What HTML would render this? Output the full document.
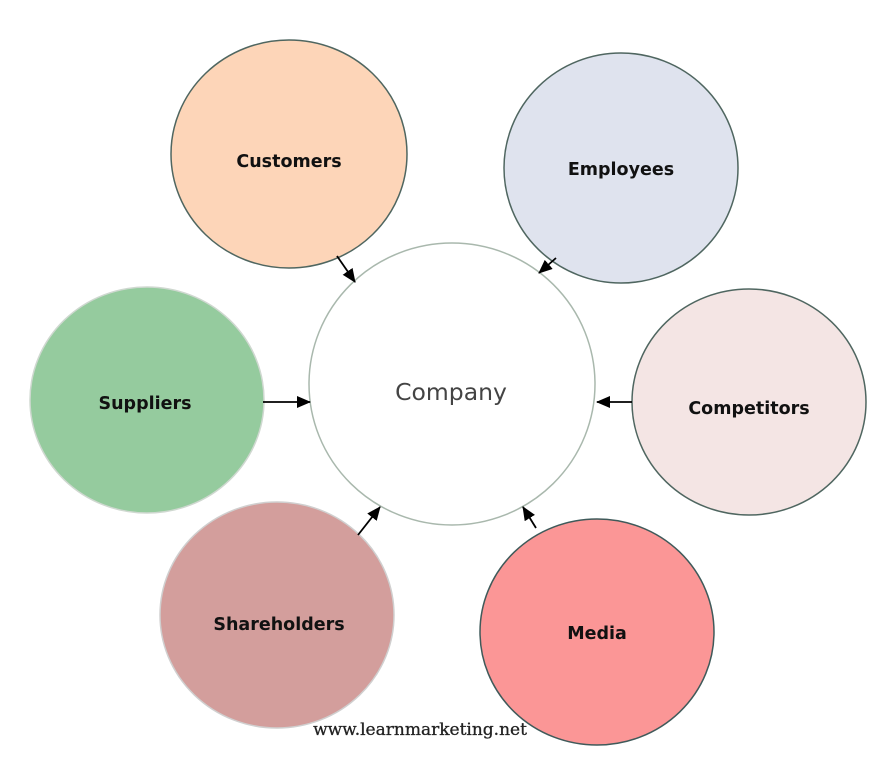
<!DOCTYPE html>
<html><head><style>body{margin:0;background:#fff}</style></head><body>
<svg width="888" height="769" xmlns="http://www.w3.org/2000/svg">
<defs><marker id="a" markerWidth="14" markerHeight="14" refX="13" refY="6" orient="auto" markerUnits="userSpaceOnUse"><path d="M0,0 L14,6 L0,12 z" fill="#000"/></marker></defs>
<g stroke="#4f6660" stroke-width="1.5">
<ellipse cx="289" cy="154" rx="118" ry="114" fill="#fdd5b8"/>
<ellipse cx="621" cy="168" rx="117" ry="115" fill="#dfe3ee"/>
<ellipse cx="749" cy="402" rx="117" ry="113" fill="#f4e5e4"/>
<ellipse cx="597" cy="632" rx="117" ry="113" fill="#fb9696" stroke="#3f5a5a"/>
<ellipse cx="277" cy="615" rx="117" ry="113" fill="#d39e9c" stroke="#d0cfcf"/>
<ellipse cx="147" cy="400" rx="117" ry="113" fill="#95cb9e" stroke="#cfd8d0"/>
</g>
<ellipse cx="452" cy="384" rx="143" ry="141" fill="#fff" stroke="#a9b8ad" stroke-width="1.5"/>
<g stroke="#000" stroke-width="1.8" marker-end="url(#a)">
<line x1="337" y1="256" x2="355" y2="282"/>
<line x1="556" y1="258" x2="539" y2="273"/>
<line x1="263" y1="402" x2="310" y2="402"/>
<line x1="632" y1="402" x2="597" y2="402"/>
<line x1="358" y1="535" x2="380" y2="507"/>
<line x1="536" y1="528" x2="523" y2="507"/>
</g>
<g font-family="DejaVu Sans, sans-serif" font-weight="bold" font-size="17.5" fill="#111" text-anchor="middle">
<text x="289" y="167">Customers</text>
<text x="621" y="175">Employees</text>
<text x="749" y="414">Competitors</text>
<text x="597" y="639">Media</text>
<text x="279" y="630">Shareholders</text>
<text x="145" y="409">Suppliers</text>
</g>
<text x="451" y="400" font-family="DejaVu Sans, sans-serif" font-size="23.5" fill="#444" text-anchor="middle">Company</text>
<text x="420" y="735" font-family="DejaVu Serif, serif" font-size="17" fill="#222" text-anchor="middle" stroke="#222" stroke-width="0.3">www.learnmarketing.net</text>
</svg>
</body></html>
